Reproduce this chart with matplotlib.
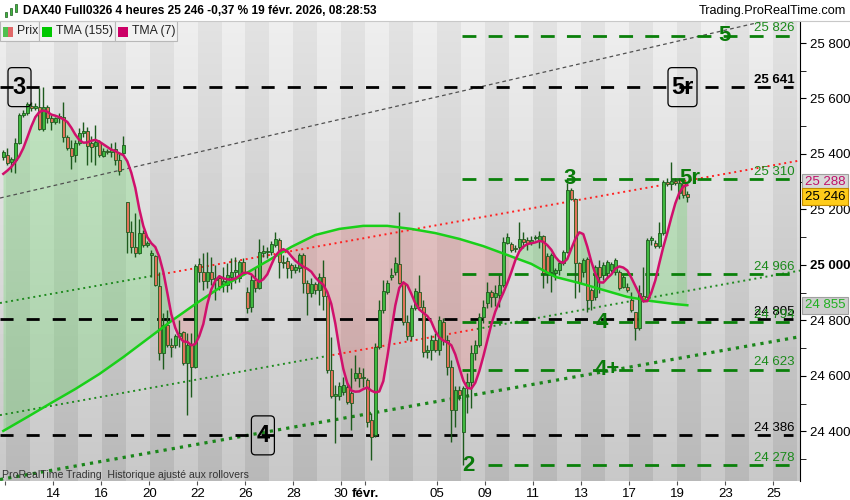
import numpy as np
import pandas as pd
import matplotlib
matplotlib.use('Agg')
import matplotlib.pyplot as plt
import matplotlib.transforms as mtransforms
from matplotlib.patches import Rectangle, Polygon, FancyBboxPatch

# --- Configuration ---
LARGEUR, HAUTEUR = 850, 500
plt.rcParams['font.family'] = ['Liberation Sans', 'DejaVu Sans']

# --- Données : bougies 4 heures DAX40 (dernière bougie du 9 janv. -> 19 févr. 2026) ---
ouverture = [
    25389, 25396, 25371, 25378, 25440, 25541, 25548, 25573, 25566, 25569,
    25490, 25569, 25530, 25515, 25530, 25533, 25461, 25422, 25396, 25440,
    25476, 25483, 25440, 25429, 25443, 25393, 25411, 25407, 25418, 25378,
    25404, 25227, 25119, 25065, 25043, 25115, 25072, 25036, 25032, 24924,
    24683, 24784, 24712, 24712, 24744, 24758, 24647, 24712, 24632, 25004,
    24975, 24942, 24975, 24946, 24953, 24931, 24928, 24957, 24975, 24953,
    25011, 24903, 24849, 24946, 24917, 25043, 25047, 25047, 25072, 25090,
    25011, 25014, 25000, 24982, 24989, 25036, 24935, 24899, 24931, 24910,
    24957, 24888, 24622, 24528, 24528, 24542, 24560, 24539, 24593, 24611,
    24593, 24586, 24441, 24387, 24704, 24838, 24903, 24957, 24975, 25004,
    24935, 24795, 24744, 24845, 24903, 24849, 24687, 24694, 24730, 24694,
    24795, 24730, 24632, 24477, 24550, 24398, 24557, 24578, 24683, 24712,
    24812, 24863, 24903, 24885, 24892, 24928, 25079, 25076, 25061, 25065,
    25094, 25090, 25079, 25097, 25090, 25104, 25032, 24975, 24971, 24982,
    25007, 25047, 25270, 25238, 25007, 24975, 25022, 24910, 24885, 24993,
    24964, 24971, 24982, 24975, 24975, 24921, 24921, 24874, 24831, 24773,
    24888, 24885, 25090, 25079, 25068, 25115, 25299, 25292, 25303, 25259,
    25295, 25256]
haut = [
    25414, 25422, 25389, 25458, 25548, 25559, 25587, 25587, 25584, 25638,
    25641, 25577, 25541, 25533, 25548, 25587, 25468, 25450, 25450, 25494,
    25515, 25497, 25465, 25505, 25450, 25422, 25418, 25440, 25443, 25407,
    25465, 25227, 25159, 25187, 25166, 25126, 25086, 25054, 25036, 24975,
    24827, 24838, 24737, 24751, 24802, 24762, 24755, 24755, 25004, 25025,
    25043, 25047, 25029, 25000, 24964, 24993, 25007, 25025, 25029, 25018,
    25025, 24921, 24964, 24989, 25094, 25072, 25065, 25086, 25119, 25097,
    25036, 25029, 25007, 25004, 25043, 25043, 24946, 24953, 24939, 24971,
    25018, 24903, 24740, 24567, 24578, 24596, 24575, 24629, 24676, 24632,
    24629, 24593, 24467, 24719, 24874, 24946, 24946, 24989, 25029, 25191,
    24942, 24820, 24856, 24917, 24964, 24874, 24712, 24748, 24755, 24816,
    24809, 24748, 24658, 24564, 24564, 24564, 24611, 24712, 24730, 24827,
    24874, 24939, 24910, 24928, 24964, 25101, 25115, 25083, 25072, 25155,
    25119, 25101, 25104, 25108, 25122, 25108, 25043, 25043, 24989, 25018,
    25054, 25295, 25277, 25241, 25011, 25025, 25029, 24917, 25000, 25018,
    25011, 25018, 25011, 25025, 24982, 24964, 24935, 24903, 24831, 24928,
    24993, 25097, 25104, 25090, 25155, 25306, 25314, 25371, 25314, 25314,
    25306, 25267]
bas = [
    25378, 25360, 25335, 25332, 25436, 25533, 25541, 25555, 25559, 25487,
    25483, 25512, 25487, 25508, 25512, 25443, 25414, 25346, 25371, 25432,
    25461, 25360, 25371, 25360, 25389, 25389, 25400, 25389, 25360, 25324,
    25396, 25043, 25043, 25029, 25040, 25065, 25065, 24957, 24924, 24658,
    24625, 24704, 24668, 24701, 24704, 24640, 24460, 24524, 24629, 24939,
    24910, 24917, 24928, 24874, 24910, 24903, 24903, 24914, 24935, 24939,
    24964, 24827, 24831, 24903, 24914, 25029, 25025, 25036, 25065, 24953,
    24989, 24953, 24953, 24971, 24975, 24899, 24820, 24885, 24896, 24856,
    24838, 24611, 24521, 24358, 24513, 24531, 24499, 24405, 24582, 24560,
    24560, 24416, 24297, 24380, 24697, 24827, 24896, 24946, 24964, 24931,
    24784, 24730, 24730, 24838, 24838, 24668, 24665, 24658, 24687, 24676,
    24712, 24604, 24362, 24416, 24513, 24278, 24467, 24485, 24658, 24704,
    24791, 24845, 24849, 24852, 24849, 24921, 25076, 25047, 25047, 25054,
    25061, 25054, 25072, 25090, 25061, 24917, 24935, 24903, 24946, 24964,
    25000, 25043, 25234, 24881, 24903, 24957, 24831, 24838, 24874, 24899,
    24946, 24953, 24975, 24964, 24910, 24917, 24903, 24831, 24730, 24766,
    24867, 24881, 25072, 25061, 25061, 25108, 25285, 25270, 25288, 25238,
    25241, 25227]
cloture = [
    25407, 25368, 25382, 25440, 25541, 25548, 25580, 25566, 25573, 25490,
    25569, 25530, 25515, 25530, 25537, 25461, 25422, 25393, 25440, 25476,
    25483, 25429, 25425, 25443, 25396, 25411, 25407, 25414, 25378, 25339,
    25432, 25119, 25065, 25043, 25115, 25072, 25079, 25043, 24928, 24683,
    24784, 24712, 24704, 24744, 24755, 24647, 24712, 24632, 24996, 24975,
    24942, 24975, 24950, 24953, 24924, 24942, 24964, 24975, 24982, 25011,
    24975, 24845, 24946, 24917, 25047, 25050, 25050, 25076, 25094, 25011,
    25007, 24989, 24982, 24993, 25036, 24935, 24899, 24931, 24910, 24957,
    24888, 24622, 24528, 24535, 24564, 24567, 24506, 24503, 24611, 24593,
    24596, 24434, 24380, 24704, 24838, 24906, 24935, 24964, 25007, 24935,
    24795, 24744, 24845, 24906, 24849, 24687, 24694, 24730, 24694, 24802,
    24730, 24632, 24477, 24550, 24531, 24557, 24578, 24683, 24712, 24812,
    24849, 24903, 24885, 24899, 24928, 25083, 25101, 25054, 25058, 25094,
    25083, 25079, 25090, 25101, 25104, 24971, 24975, 25036, 24982, 25007,
    25047, 25270, 25238, 25007, 24939, 25018, 24874, 24874, 24993, 24957,
    25000, 25011, 25004, 25018, 24917, 24957, 24910, 24838, 24773, 24899,
    24874, 25090, 25097, 25068, 25115, 25299, 25292, 25303, 25295, 25295,
    25252, 25246]
# 6 clôtures précédentes (hors écran), utiles au calcul de la TMA (7)
cloture_avant = [25306, 25314, 25321, 25321, 25328, 25342]

# TMA (155) (une valeur par séance)
tma155_index = [0, 6, 12, 18, 24, 30, 36, 42, 48, 54, 60, 66, 72, 78, 84,
                90, 96, 102, 108, 114, 120, 126, 132, 138, 144, 150, 156, 162, 168, 171]
tma155_valeurs = [24402, 24452, 24503, 24553, 24607, 24668, 24733, 24798, 24859, 24917,
                  24964, 25014, 25065, 25108, 25130, 25141, 25141, 25130, 25115, 25094,
                  25068, 25036, 25004, 24957, 24935, 24910, 24885, 24870, 24859, 24855]

# Axe du temps : numéro de séance et libellé
jours_num = [0, 2, 4, 6, 8, 10, 12, 14, 15, 18, 20, 22, 24, 26, 28, 30, 32]
jours_labels = ['', '14', '16', '20', '22', '26', '28', '30', 'févr.',
                '05', '09', '11', '13', '17', '19', '23', '25']

# Niveaux horizontaux
niveaux_noirs = [25641, 24805, 24386]
niveaux_verts = [25826, 25310, 24966, 24794, 24623, 24278]
vagues_vertes = ['5', '3', '5r', '4', '4+', '2']
vagues_vertes_prix = [25826, 25310, 25310, 24794, 24623, 24278]
vagues_noires = ['3', '4', '5r']
vagues_noires_prix = [25641, 24386, 25641]

# Droites de tendance (deux points : n° de bougie, prix)
ligne_grise = [(0, 25244), (190, 25878)]
ligne_haute = [(0, 24865), (190, 25353)]
ligne_milieu = [(0, 24461), (190, 24956)]
ligne_basse = [(0, 24229), (190, 24718)]

dernier_prix = 25246

# --- Limites (1 bougie = 4 px) ---
X_MIN, X_MAX = -0.825, 199.175
Y_MIN, Y_MAX = 24221.5, 25879.3


def px(x, y):
    """Pixels de l'image -> coordonnées figure."""
    return x / LARGEUR, 1 - y / HAUTEUR


def sur_ligne(ligne, xi):
    (x0, y0), (x1, y1) = ligne
    return y0 + (y1 - y0) * (xi - x0) / (x1 - x0)


def fmt(v):
    return f"{int(round(v)):,}".replace(",", " ")


fig = plt.figure(figsize=(LARGEUR / 100, HAUTEUR / 100), dpi=100, facecolor='white')
ax = fig.add_axes([0, 19 / HAUTEUR, 800 / LARGEUR, 460 / HAUTEUR])

# 1. Fond : bandes par séance + dégradé vertical
colonnes = np.linspace(X_MIN, X_MAX, 800)
jour = np.floor((colonnes - 0.5) / 6)
sombre = (jour % 2 == 0)
t = np.linspace(0, 1, 460)[:, None]
fond = np.where(sombre[None, :], 226 - 42 * t, 238 - 38 * t) / 255.0
ax.imshow(fond, extent=[X_MIN, X_MAX, Y_MIN, Y_MAX], aspect='auto', cmap='gray',
          vmin=0, vmax=1, origin='upper', zorder=0, interpolation='nearest')

# 2. Indicateurs
x = np.arange(len(cloture))
tma7 = (pd.Series(cloture_avant + cloture).rolling(4).mean()
        .rolling(4).mean().iloc[len(cloture_avant):].to_numpy())

entre = list(zip(x, tma7)) + list(zip(tma155_index[::-1], tma155_valeurs[::-1]))
courbe = list(zip(tma155_index, tma155_valeurs))
dessus = courbe + [(tma155_index[-1], 40000), (tma155_index[0], 40000)]
dessous = courbe + [(tma155_index[-1], 10000), (tma155_index[0], 10000)]
for zone, couleur in ((dessus, (0.35, 0.85, 0.35, 0.28)), (dessous, (0.92, 0.4, 0.4, 0.25))):
    clip = Polygon(zone, closed=True, transform=ax.transData)
    remplissage = Polygon(entre, closed=True, facecolor=couleur, edgecolor='none', zorder=1)
    ax.add_patch(remplissage)
    remplissage.set_clip_path(clip)

# 3. Droites de tendance
def trace_ligne(ligne, debut, fin, **style):
    ax.plot([debut, fin], [sur_ligne(ligne, debut), sur_ligne(ligne, fin)], **style)

pointille_fin = dict(lw=1.4, ls=(0, (1, 1.9)), zorder=2)
trace_ligne(ligne_grise, X_MIN, X_MAX, color='#505050', lw=0.9, ls=(0, (3, 2.5)), zorder=2)
trace_ligne(ligne_haute, X_MIN, 38.4, color='#1f8a1f', **pointille_fin)
trace_ligne(ligne_haute, 38.4, X_MAX, color='#ff2020', **pointille_fin)
trace_ligne(ligne_milieu, X_MIN, 80.9, color='#1f8a1f', **pointille_fin)
trace_ligne(ligne_milieu, 80.9, 118.4, color='#ff2020', **pointille_fin)
trace_ligne(ligne_milieu, 118.4, X_MAX, color='#1f8a1f', **pointille_fin)
trace_ligne(ligne_basse, X_MIN, X_MAX, color='#1a861a', lw=2.3, ls=(0, (1, 1.6)), zorder=2)

# 4. Niveaux horizontaux
for niveau in niveaux_noirs:
    ax.plot([X_MIN, 197.4], [niveau, niveau], color='black', lw=2, ls=(0, (4.7, 4.7)), zorder=2.5)
    ax.annotate(fmt(niveau), (197.9, niveau), xytext=(0, 1), textcoords='offset points',
                ha='right', va='bottom', fontsize=9.5, color='black',
                fontweight='bold' if niveau == niveaux_noirs[0] else 'normal', zorder=7)
for niveau in niveaux_verts:
    debut = 121.2 if niveau == niveaux_verts[-1] else 114.7
    ax.plot([debut, 196.7], [niveau, niveau], color='#0a800a', lw=2, ls=(0, (5, 4.4)), zorder=2.5)
    ax.annotate(fmt(niveau), (197.9, niveau), xytext=(0, 1), textcoords='offset points',
                ha='right', va='bottom', fontsize=9.5, color='#1a8a1a', zorder=7)

# 5. Bougies
o, h, b, c = map(np.array, (ouverture, haut, bas, cloture))
hausse = c >= o
ax.vlines(x, b, h, color='#1d5a1d', lw=1, zorder=3)
corps_bas = np.minimum(o, c)
corps = np.maximum(np.abs(c - o), 4)
ax.bar(x, corps, bottom=corps_bas, width=0.72,
       color=np.where(hausse, '#3fb83f', '#e0735a'),
       edgecolor='#1d5a1d', linewidth=0.6, zorder=4)

ax.plot(tma155_index, tma155_valeurs, color='#19d019', lw=1.8, zorder=5)
ax.plot(x, tma7, color='#d0106c', lw=1.8, zorder=6)

# 6. Étiquettes de vagues
position_vertes = [180.4, 141.7, 171.7, 149.7, 150.9, 116.4]
for texte, xi, prix in zip(vagues_vertes, position_vertes, vagues_vertes_prix):
    ax.text(xi, prix, texte, ha='center', va='center', fontsize=16,
            fontweight='bold', color='#0a7a0a', zorder=8)

position_noires = [(4.05, 5.75), (64.9, 5.75), (169.8, 7.25)]
for texte, (xi, larg), prix in zip(vagues_noires, position_noires, vagues_noires_prix):
    boite = FancyBboxPatch((xi - larg / 2, prix - 70.3), larg, 140.5,
                           boxstyle='round,pad=0,rounding_size=1', mutation_aspect=14.4,
                           fc='none', ec='black', lw=0.9, zorder=8)
    ax.add_patch(boite)
    ax.text(xi, prix, texte, ha='center', va='center', fontsize=17,
            fontweight='bold', color='black', zorder=8)

ax.text(0.003, 0.014, 'ProRealTime Trading  Historique ajusté aux rollovers',
        transform=ax.transAxes, fontsize=7.6, color='#333333', va='center', zorder=9)

# 7. Axes
ax.set_xlim(X_MIN, X_MAX)
ax.set_ylim(Y_MIN, Y_MAX)
for cote in ('top', 'left', 'bottom'):
    ax.spines[cote].set_visible(False)
ax.spines['right'].set_color('black')

ax.set_xticks([0.5 + 6 * d for d in jours_num], jours_labels)
ax.tick_params(axis='x', length=3, labelsize=9.5, pad=2, color='#555555')
for etiquette in ax.get_xticklabels():
    if etiquette.get_text() == 'févr.':
        etiquette.set_fontweight('bold')

ax.yaxis.tick_right()
graduations = np.arange(24400, 25801, 200)
ax.set_yticks(graduations, [fmt(v) for v in graduations])
ax.set_yticks(np.arange(24300, 25801, 100), minor=True)
ax.tick_params(axis='y', which='both', length=4, labelsize=9.5, pad=3)
for etiquette in ax.get_yticklabels():
    if etiquette.get_text() == '25 000':
        etiquette.set_fontweight('bold')

# Cartouches de prix sur l'axe de droite
tr = mtransforms.blended_transform_factory(ax.transAxes, ax.transData)
cartouches = [(tma7[-1], '#c0106a', '#d8d8d8', '#a0a0a0', 10),
              (dernier_prix, 'black', '#ffcc1a', '#c08a00', 0),
              (tma155_valeurs[-1], '#20b020', '#cdcdcd', '#a0a0a0', 0)]
for valeur, couleur, fond_c, bord, decal in cartouches:
    ax.text(1.006, valeur + decal, fmt(valeur), transform=tr, ha='left', va='center',
            fontsize=9.5, color=couleur, clip_on=False, zorder=10,
            bbox=dict(boxstyle='square,pad=0.18', fc=fond_c, ec=bord, lw=0.8))

# 8. En-tête et légende
fig.add_artist(plt.Line2D([0, 1], [px(0, 20.5)[1]] * 2, color='#c8c8c8', lw=0.8))
for cx, haut_px, bas_px in ((6, 12, 17), (11, 8, 15), (16, 4, 12)):
    x0, y0 = px(cx - 1, bas_px)
    fig.add_artist(Rectangle((x0, y0), 2 / LARGEUR, (bas_px - haut_px) / HAUTEUR,
                             fc='#3fb83f', ec='#1d5a1d', lw=0.5))
fig.text(*px(23, 11), 'DAX40 Full0326 4 heures 25 246 -0,37 % 19 févr. 2026, 08:28:53',
         fontsize=8.6, fontweight='bold', va='center', ha='left')
fig.text(*px(846, 11), 'Trading.ProRealTime.com', fontsize=9.2, va='center', ha='right')

legende = [(0, 39, 'Prix', None), (39, 115, 'TMA (155)', '#00c800'), (115, 177, 'TMA (7)', '#cc0066')]
for gauche, droite, texte, couleur in legende:
    x0, y0 = px(gauche, 41)
    fig.add_artist(Rectangle((x0, y0), (droite - gauche) / LARGEUR, 20 / HAUTEUR,
                             fc='#f2f2f2', ec='#b8b8b8', lw=0.8))
    ix, iy = px(gauche + 3, 37)
    if couleur is None:
        fig.add_artist(Rectangle((ix, iy), 5 / LARGEUR, 10 / HAUTEUR, fc='#4fc04f', ec='none'))
        fig.add_artist(Rectangle((ix + 5 / LARGEUR, iy), 5 / LARGEUR, 10 / HAUTEUR, fc='#e06868', ec='none'))
    else:
        fig.add_artist(Rectangle((ix, iy), 10 / LARGEUR, 10 / HAUTEUR, fc=couleur, ec='none'))
    fig.text(*px(gauche + 17, 31), texte, fontsize=8.8, va='center', ha='left', color='#222222')

fig.savefig('out.png', dpi=100, facecolor='white')
